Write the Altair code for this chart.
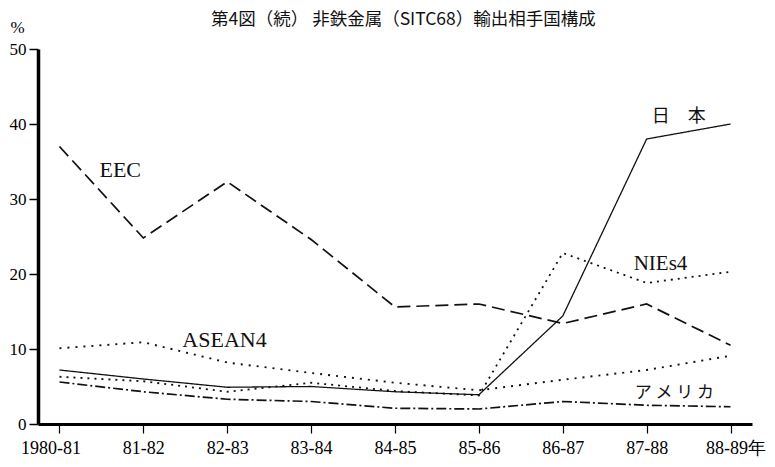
import altair as alt
import pandas as pd

# ---- data ----
periods = ["1980-81", "81-82", "82-83", "83-84", "84-85", "85-86", "86-87", "87-88", "88-89年"]

japan   = [7.2, 6.0, 4.9, 5.0, 4.3, 3.9, 14.4, 38.0, 40.0]
eec     = [37.0, 24.8, 32.3, 24.6, 15.6, 16.0, 13.4, 16.0, 10.5]
asean4  = [10.1, 10.9, 8.2, 6.8, 5.5, 4.5, 5.9, 7.2, 9.1]
nies4   = [6.3, 5.7, 4.3, 5.5, 4.4, 3.8, 22.8, 18.8, 20.3]
america = [5.6, 4.3, 3.3, 3.0, 2.1, 2.0, 3.0, 2.5, 2.3]

series_names  = ["日本", "EEC", "ASEAN4", "NIEs4", "アメリカ"]
series_values = [japan, eec, asean4, nies4, america]

# in-chart labels: text, anchor period, anchor value
label_texts   = ["EEC", "ASEAN4", "日　本", "NIEs4", "ア メ リ カ"]
label_periods = ["1980-81", "81-82", "87-88", "87-88", "87-88"]
label_values  = [33.9, 11.2, 40.9, 21.3, 4.1]

title_text = "第4図（続）  非鉄金属（SITC68）輸出相手国構成"

# ---- styles ----
dashes = [[1, 0], [13, 6], [2, 6], [2, 5], [10, 3, 2, 3]]
widths = [1.3, 1.7, 1.9, 1.8, 1.7]
label_dx = [40, 39, 5, -13, -12]
label_fonts = ["Liberation Serif", "Liberation Serif", "Noto Sans CJK JP",
               "Liberation Serif", "Noto Sans CJK JP"]
label_sizes = [22, 22, 18, 21, 17]

x_enc = alt.X(
    "period:N",
    scale=alt.Scale(type="point", domain=periods, padding=0.256),
    axis=alt.Axis(
        title=None, labelAngle=0, tickSize=9, tickWidth=1.2, labelPadding=6,
        domainWidth=3, grid=False, labelFontSize=18,
        labelOffset={"condition": [
            {"test": "datum.value === '1980-81'", "value": -9},
            {"test": "datum.value === '88-89年'", "value": 5},
        ], "value": 0},
    ),
)
y_enc = alt.Y(
    "value:Q",
    scale=alt.Scale(domain=[0, 50], nice=False),
    axis=alt.Axis(
        values=[0, 10, 20, 30, 40, 50], tickSize=9, tickWidth=1.5,
        labelPadding=3, domainWidth=3.5, grid=False, labelFontSize=17,
        title="%", titleAngle=0, titleX=-21, titleY=-22,
        titleAlign="center", titleBaseline="middle",
        titleFont="Liberation Serif", titleFontSize=17, titleFontWeight="normal",
    ),
)

layers = []
for name, vals, dash, w in zip(series_names, series_values, dashes, widths):
    d = pd.DataFrame({"period": periods, "value": vals, "series": name})
    layers.append(
        alt.Chart(d).mark_line(color="#111", strokeDash=dash, strokeWidth=w)
        .encode(x=x_enc, y=y_enc)
    )

for t, p, v, dx, f, s in zip(label_texts, label_periods, label_values,
                             label_dx, label_fonts, label_sizes):
    d = pd.DataFrame({"period": [p], "value": [v], "label": [t]})
    layers.append(
        alt.Chart(d).mark_text(align="left", baseline="middle", dx=dx,
                               font=f, fontSize=s, color="#111")
        .encode(x=x_enc, y=y_enc, text="label:N")
    )

chart = alt.layer(*layers).properties(
    width=714,
    height=375,
    autosize=alt.AutoSizeParams(type="none"),
    padding={"left": 30, "top": 41, "right": 15, "bottom": 35},
    title=alt.TitleParams(
        text=title_text, font="Noto Sans CJK JP", fontSize=17.5,
        fontWeight="normal", anchor="start", dx=202, offset=-28,
        baseline="bottom", color="#111",
    ),
).configure_view(stroke=None).configure_axis(
    domainColor="#000", tickColor="#000", labelColor="#000",
    labelFont="Liberation Serif", titleColor="#000",
)

chart.save("out.html", embed_options={"renderer": "svg", "actions": False})
